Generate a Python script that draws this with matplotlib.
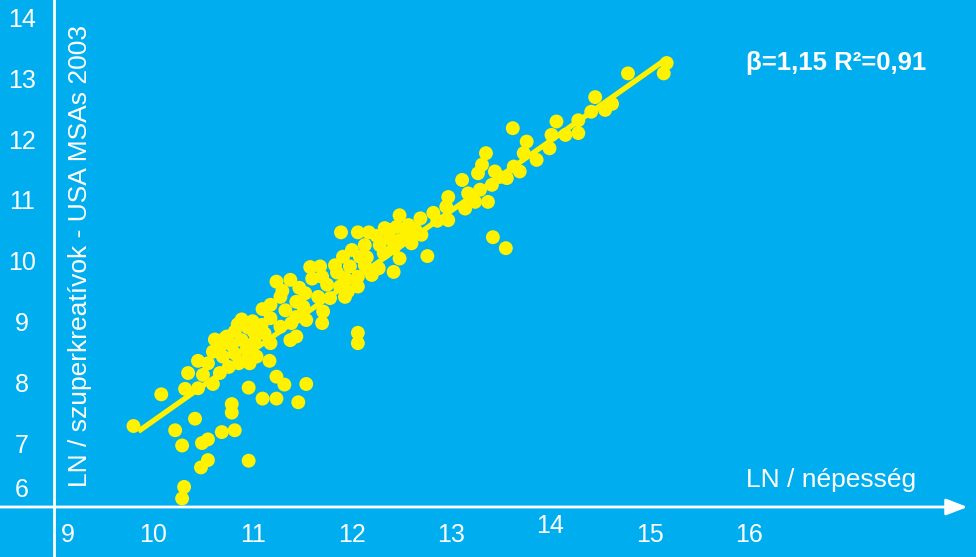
import matplotlib
matplotlib.use("Agg")
import matplotlib.pyplot as plt
import numpy as np

# LN(population) and LN(super-creative workers), US metropolitan areas, 2003
ln_pop = [
    9.80, 10.08, 10.22, 10.29, 10.42, 10.49, 10.55, 10.55, 10.48, 10.31, 10.29,
    10.69, 10.82, 10.79, 10.79, 10.96, 10.96, 11.10, 11.24, 11.24, 11.32, 11.46,
    11.54, 11.38, 11.44, 10.32, 10.35, 10.45, 10.55, 10.45, 10.60, 10.67, 11.17,
    10.67, 10.74, 11.24, 11.38, 11.58, 11.68, 11.83, 11.75, 11.78, 11.66, 11.53,
    11.44, 11.28, 11.18, 11.33, 11.54, 11.70, 11.71, 10.89, 11.18, 11.09, 11.28,
    11.01, 10.82, 10.72, 10.79, 10.89, 11.02, 11.18, 10.94, 10.82, 11.04, 10.86,
    10.97, 10.70, 10.76, 10.50, 10.60, 10.62, 10.85, 11.00, 11.10, 11.30, 11.47,
    11.60, 10.95, 11.12,
    11.89, 12.06, 12.17, 12.13, 12.33, 12.48, 12.69, 12.82, 12.97, 12.95, 12.97,
    12.45, 12.57, 12.55, 12.70, 12.60, 12.48, 12.38, 12.28, 12.32, 12.42, 12.48,
    12.42, 12.76, 12.00, 11.91, 12.08, 11.98, 12.13, 12.27, 12.20, 12.06, 11.93,
    11.88, 12.06, 11.96, 11.93, 11.70, 11.51, 11.44, 11.39, 12.06, 12.06,
    11.85, 12.15, 12.25, 12.38, 12.64, 12.86,
    13.62, 14.06, 14.01, 13.99, 13.76, 13.73, 13.86, 13.63, 13.69, 13.56, 13.44,
    13.49, 13.35, 13.31, 13.27, 13.11, 13.41, 13.29, 13.17, 13.37, 13.24, 13.14,
    13.42, 13.55,
    15.17, 15.14, 14.78, 14.45, 14.62, 14.55, 14.41, 14.28, 14.28, 14.15,
]
ln_creative = [
    7.33, 7.85, 7.26, 7.01, 7.45, 7.05, 7.11, 6.77, 6.65, 6.33, 6.14,
    7.23, 7.26, 7.69, 7.55, 6.76, 7.96, 7.78, 7.78, 8.14, 8.01, 7.72,
    8.02, 8.74, 8.80, 7.94, 8.20, 8.40, 8.36, 7.95, 8.02, 8.20, 8.40,
    8.63, 8.80, 9.70, 9.73, 9.94, 9.95, 9.97, 9.65, 9.43, 9.45, 9.51,
    9.37, 9.45, 9.32, 9.23, 9.07, 9.02, 9.21, 9.08, 9.10, 8.99, 8.96,
    8.88, 8.88, 8.77, 8.66, 8.74, 8.71, 8.69, 8.58, 8.52, 8.47, 8.36,
    8.36, 8.47, 8.30, 8.17, 8.55, 8.75, 9.00, 9.05, 9.25, 9.55, 9.60,
    9.75, 8.95, 8.85,
    10.51, 10.51, 10.51, 10.30, 10.58, 10.79, 10.74, 10.83, 11.09, 10.93, 10.71,
    10.60, 10.63, 10.49, 10.47, 10.33, 10.38, 10.41, 10.30, 10.17, 10.25, 10.08,
    9.86, 10.12, 10.22, 10.11, 10.11, 9.95, 9.97, 9.92, 9.81, 9.78, 9.76,
    9.62, 9.62, 9.54, 9.45, 9.78, 9.29, 9.12, 9.02, 8.86, 8.69,
    9.85, 10.10, 10.45, 10.55, 10.55, 10.70,
    12.22, 12.33, 12.11, 11.89, 12.00, 11.81, 11.70, 11.59, 11.51, 11.40, 11.51,
    11.42, 11.81, 11.62, 11.48, 11.37, 11.29, 11.21, 11.15, 11.01, 11.01, 10.90,
    10.43, 10.25,
    13.29, 13.12, 13.12, 12.73, 12.62, 12.52, 12.49, 12.35, 12.14, 12.11,
]

# fitted scaling law
beta = 1.15
r_squared = 0.91
fit_range = [9.85, 15.17]

x_ticks = [9, 10, 11, 12, 13, 14, 15, 16]
y_ticks = [14, 13, 12, 11, 10, 9, 8, 7, 6]

x_title = "LN / népesség"
y_title = "LN / szuperkreatívok - USA MSAs 2003"

BLUE = "#00AEEF"
YELLOW = "#FFF200"
WHITE = "white"
FONT = "Liberation Sans"

fig = plt.figure(figsize=(9.76, 5.57), dpi=100)
fig.patch.set_facecolor(BLUE)
ax = fig.add_axes([0, 0, 1, 1])
ax.set_facecolor(BLUE)
ax.set_xlim(8.456, 18.285)
ax.set_ylim(5.179, 14.325)
ax.axis("off")

# axes drawn as white lines crossing at (9, 6), arrow on the x axis
ax.axvline(9, color=WHITE, lw=2.0, zorder=1)
ax.annotate("", xy=(18.20, 6), xytext=(8.456, 6),
            arrowprops=dict(arrowstyle="-|>,head_length=1.3,head_width=0.5",
                            color=WHITE, lw=2.0, shrinkA=0, shrinkB=0,
                            mutation_scale=10),
            zorder=1)

# regression line with the stated slope through the centre of the cloud
xm, ym = np.mean(ln_pop), np.mean(ln_creative)
xs = np.array(fit_range)
ax.plot(xs, ym + beta * (xs - xm), color=YELLOW, lw=3.8,
        solid_capstyle="butt", zorder=2)

ax.scatter(ln_pop, ln_creative, s=100, color=YELLOW, edgecolors="none",
           zorder=3)

# tick labels
for v in x_ticks:
    dx, dy = 0, 0
    if v == 9:
        dx = 10
    if v == 14:
        dy = 6
    ax.annotate(str(v), xy=(v, 6), xytext=(dx, -20 + dy),
                textcoords="offset points", ha="center", va="center",
                color=WHITE, fontsize=18, family=FONT)
for v in y_ticks:
    dy = 12 if v == 6 else 0
    ax.annotate(str(v), xy=(8.678, v), xytext=(0, dy),
                textcoords="offset points", ha="center", va="center",
                color=WHITE, fontsize=18, family=FONT)

ax.text(0.7643, 0.1257, x_title, transform=ax.transAxes, ha="left",
        va="baseline", color=WHITE, fontsize=19, family=FONT)
ax.text(0.0891, 0.1257, y_title, transform=ax.transAxes, ha="left",
        va="baseline", rotation=90, rotation_mode="anchor",
        color=WHITE, fontsize=19, family=FONT)

ax.text(0.7643, 0.8869,
        "β={:.2f} R²={:.2f}".format(beta, r_squared).replace(".", ","),
        transform=ax.transAxes, ha="left", va="center", color=WHITE,
        fontsize=18.5, fontweight="bold", family=[FONT, "DejaVu Sans"])

fig.savefig("out.png", dpi=100, facecolor=BLUE)
